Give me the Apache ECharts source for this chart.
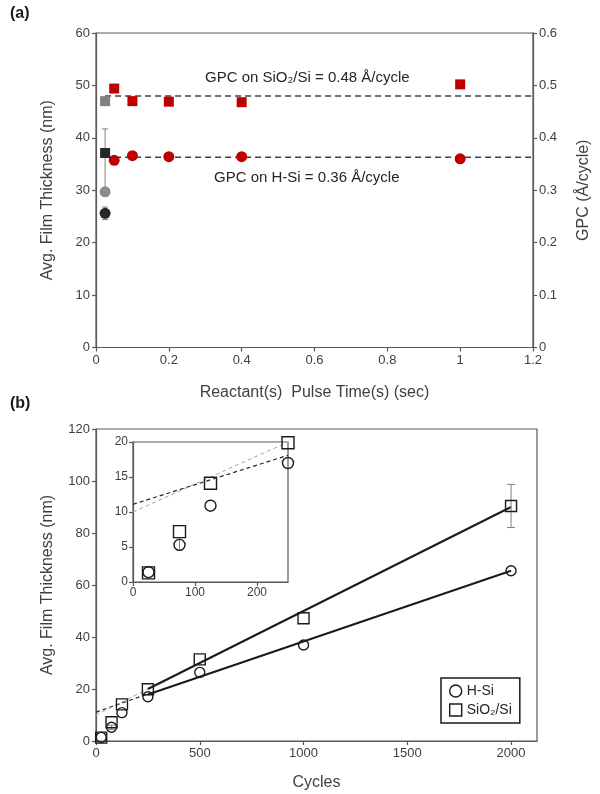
<!DOCTYPE html>
<html>
<head>
<meta charset="utf-8">
<script src="https://cdn.jsdelivr.net/npm/echarts@6/dist/echarts.min.js"></script>
<style>
  html, body { margin: 0; padding: 0; background: #fff; }
  #main { width: 600px; height: 794px; }
</style>
</head>
<body>
<div id="main"></div>
<script>
// ---- panel (a): thickness vs reactant pulse time ----
const pulseTimes = [0.05, 0.1, 0.2, 0.4, 1.0];
const sio2Thick = [49.4, 47.0, 46.9, 46.8, 50.2];
const hsiThick = [35.7, 36.6, 36.4, 36.4, 36.0];
const shortPulse = 0.025;
const graySquare = 47.0;
const blackSquare = 37.1;
const grayCircle = 29.7;
const blackCircle = 25.6;
const blackSquareErr = [29.7, 41.7]; // low, high
const blackCircleErr = [24.4, 26.8];
const gpcLineX = [0.025, 1.2];
const gpcSio2Level = 48.0;
const gpcHsiLevel = 36.3;

// ---- panel (b): thickness vs cycles ----
const cycles = [25, 75, 125, 250, 500, 1000, 2000];
const hsiCycles = [1.4, 5.3, 10.9, 17.0, 26.4, 36.9, 65.5];
const sio2Cycles = [1.3, 7.2, 14.1, 19.9, 31.4, 47.2, 90.4];
const hsiErr = [[75, 4.5, 6.1]];          // cycle, low, high
const sio2Err = [[2000, 82.1, 98.7]];
// fit lines: solid over 250-2000, dashed extrapolation 0-250
const fitSolidX = [250, 2000];
const hsiFitSolid = [17.9, 65.5];
const sio2FitSolid = [20.0, 90.0];
const fitDashX = [0, 250];
const hsiFitDash = [11.1, 18.1];
const sio2FitDash = [10.0, 20.0];
const insetCount = 4; // first four cycle counts shown in the inset

const axisColor = '#595959';
const textColor = '#404040';
const red = '#c00000';
const font = 'Liberation Sans, Arial, sans-serif';

const zip = (xs, ys) => xs.map((x, i) => [x, ys[i]]);

function errorBar(capHalf, color) {
  return function (params, api) {
    const x = api.value(0);
    const lo = api.coord([x, api.value(1)]);
    const hi = api.coord([x, api.value(2)]);
    const st = { stroke: color, lineWidth: 1 };
    return {
      type: 'group',
      children: [
        { type: 'line', shape: { x1: lo[0], y1: lo[1], x2: hi[0], y2: hi[1] }, style: st },
        { type: 'line', shape: { x1: hi[0] - capHalf, y1: hi[1], x2: hi[0] + capHalf, y2: hi[1] }, style: st },
        { type: 'line', shape: { x1: lo[0] - capHalf, y1: lo[1], x2: lo[0] + capHalf, y2: lo[1] }, style: st }
      ]
    };
  };
}

function valueAxis(extra) {
  return Object.assign({
    type: 'value',
    splitLine: { show: false },
    axisLine: { show: true, onZero: false, lineStyle: { color: axisColor, width: 1.2 } },
    axisTick: { show: true, length: 4, lineStyle: { color: axisColor, width: 1.2 } },
    axisLabel: { color: textColor, fontSize: 13, fontFamily: font, margin: 6, formatter: v => String(v) },
    nameTextStyle: { color: textColor, fontSize: 16, fontFamily: font }
  }, extra);
}

const hollow = { color: 'rgba(0,0,0,0)', borderColor: '#1a1a1a', borderWidth: 1.4, opacity: 1 };
const solid = c => ({ color: c, opacity: 1 });

const chart = echarts.init(document.getElementById('main'));
const option = {
  animation: false,
  backgroundColor: '#fff',
  textStyle: { fontFamily: font },
  grid: [
    { left: 96, top: 33, width: 439, height: 314.5, show: true, borderColor: axisColor, borderWidth: 1.2 },
    { left: 96, top: 429, width: 441, height: 312, show: true, borderColor: axisColor, borderWidth: 1.2 },
    { left: 133, top: 442, width: 155, height: 140, show: true, borderColor: axisColor, borderWidth: 1.2, backgroundColor: '#fff' }
  ],
  xAxis: [
    valueAxis({ gridIndex: 0, min: 0, max: 1.2, interval: 0.2,
      name: 'Reactant(s)  Pulse Time(s) (sec)', nameLocation: 'middle', nameGap: 37 }),
    valueAxis({ gridIndex: 1, min: 0, max: 2125, interval: 500,
      axisLabel: { color: textColor, fontSize: 13, fontFamily: font, margin: 6, showMaxLabel: false, formatter: v => String(v) },
      name: 'Cycles', nameLocation: 'middle', nameGap: 34 }),
    valueAxis({ gridIndex: 2, min: 0, max: 250, interval: 100,
      axisLabel: { color: textColor, fontSize: 12, fontFamily: font, margin: 5, showMaxLabel: false, formatter: v => String(v) } })
  ],
  yAxis: [
    valueAxis({ gridIndex: 0, min: 0, max: 60, interval: 10,
      name: 'Avg. Film Thickness (nm)', nameLocation: 'middle', nameGap: 40 }),
    valueAxis({ gridIndex: 0, position: 'right', min: 0, max: 0.6, interval: 0.1,
      name: 'GPC (Å/cycle)', nameLocation: 'middle', nameGap: 43 }),
    valueAxis({ gridIndex: 1, min: 0, max: 120, interval: 20,
      name: 'Avg. Film Thickness (nm)', nameLocation: 'middle', nameGap: 40 }),
    valueAxis({ gridIndex: 2, min: 0, max: 20, interval: 5,
      axisLabel: { color: textColor, fontSize: 12, fontFamily: font, margin: 5 } })
  ],
  legend: {
    orient: 'vertical',
    left: 441, top: 678,
    padding: [6, 8, 6, 8],
    itemGap: 5,
    itemWidth: 12, itemHeight: 12,
    borderColor: '#1a1a1a', borderWidth: 1.5, borderRadius: 0,
    backgroundColor: '#fff',
    textStyle: { color: '#262626', fontSize: 14, fontFamily: font },
    data: [
      { name: 'H-Si', icon: 'circle', itemStyle: hollow },
      { name: 'SiO₂/Si', icon: 'rect', itemStyle: hollow }
    ]
  },
  graphic: [
    { type: 'text', left: 10, top: 6, style: { text: '(a)', font: 'bold 16px ' + font, fill: '#1a1a1a' } },
    { type: 'text', left: 10, top: 396, style: { text: '(b)', font: 'bold 16px ' + font, fill: '#1a1a1a' } },
    { type: 'text', left: 205, top: 70, style: { text: 'GPC on SiO₂/Si = 0.48 Å/cycle', font: '15px ' + font, fill: '#262626' } },
    { type: 'text', left: 214, top: 170, style: { text: 'GPC on H-Si = 0.36 Å/cycle', font: '15px ' + font, fill: '#262626' } }
  ],
  series: [
    // ---- panel (a) ----
    { type: 'line', xAxisIndex: 0, yAxisIndex: 0, symbol: 'none', z: 1,
      lineStyle: { color: textColor, width: 1.5, type: [6, 4] },
      data: gpcLineX.map(x => [x, gpcSio2Level]) },
    { type: 'line', xAxisIndex: 0, yAxisIndex: 0, symbol: 'none', z: 1,
      lineStyle: { color: textColor, width: 1.5, type: [6, 4] },
      data: gpcLineX.map(x => [x, gpcHsiLevel]) },
    { type: 'custom', xAxisIndex: 0, yAxisIndex: 0, z: 2,
      renderItem: errorBar(3, '#808080'), encode: { x: 0, y: [1, 2] },
      data: [[shortPulse, blackSquareErr[0], blackSquareErr[1]], [shortPulse, blackCircleErr[0], blackCircleErr[1]]] },
    { type: 'scatter', xAxisIndex: 0, yAxisIndex: 0, symbol: 'rect', symbolSize: 10, z: 3,
      itemStyle: solid(red), data: zip(pulseTimes, sio2Thick) },
    { type: 'scatter', xAxisIndex: 0, yAxisIndex: 0, symbol: 'circle', symbolSize: 11, z: 3,
      itemStyle: solid(red), data: zip(pulseTimes, hsiThick) },
    { type: 'scatter', xAxisIndex: 0, yAxisIndex: 0, symbol: 'rect', symbolSize: 10, z: 3,
      itemStyle: solid('#808080'), data: [[shortPulse, graySquare]] },
    { type: 'scatter', xAxisIndex: 0, yAxisIndex: 0, symbol: 'rect', symbolSize: 10, z: 3,
      itemStyle: solid('#262626'), data: [[shortPulse, blackSquare]] },
    { type: 'scatter', xAxisIndex: 0, yAxisIndex: 0, symbol: 'circle', symbolSize: 11, z: 3,
      itemStyle: solid('#8c8c8c'), data: [[shortPulse, grayCircle]] },
    { type: 'scatter', xAxisIndex: 0, yAxisIndex: 0, symbol: 'circle', symbolSize: 11, z: 3,
      itemStyle: solid('#262626'), data: [[shortPulse, blackCircle]] },

    // ---- panel (b) main ----
    { type: 'line', xAxisIndex: 1, yAxisIndex: 2, symbol: 'none', z: 1,
      lineStyle: { color: '#262626', width: 1.2, type: [4, 3] }, data: zip(fitDashX, hsiFitDash) },
    { type: 'line', xAxisIndex: 1, yAxisIndex: 2, symbol: 'none', z: 1,
      lineStyle: { color: '#a6a6a6', width: 1, type: [4, 3] }, data: zip(fitDashX, sio2FitDash) },
    { type: 'line', xAxisIndex: 1, yAxisIndex: 2, symbol: 'none', z: 1,
      lineStyle: { color: '#1a1a1a', width: 2 }, data: zip(fitSolidX, hsiFitSolid) },
    { type: 'line', xAxisIndex: 1, yAxisIndex: 2, symbol: 'none', z: 1,
      lineStyle: { color: '#1a1a1a', width: 2 }, data: zip(fitSolidX, sio2FitSolid) },
    { type: 'custom', xAxisIndex: 1, yAxisIndex: 2, z: 2,
      renderItem: errorBar(4, '#808080'), encode: { x: 0, y: [1, 2] },
      data: sio2Err.concat(hsiErr) },
    { name: 'H-Si', type: 'scatter', xAxisIndex: 1, yAxisIndex: 2, symbol: 'circle', symbolSize: 10, z: 3,
      itemStyle: hollow, data: zip(cycles, hsiCycles) },
    { name: 'SiO₂/Si', type: 'scatter', xAxisIndex: 1, yAxisIndex: 2, symbol: 'rect', symbolSize: 11, z: 3,
      itemStyle: hollow, data: zip(cycles, sio2Cycles) },

    // ---- panel (b) inset ----
    { type: 'line', xAxisIndex: 2, yAxisIndex: 3, symbol: 'none', z: 4,
      lineStyle: { color: '#262626', width: 1.2, type: [4, 3] }, data: zip(fitDashX, hsiFitDash) },
    { type: 'line', xAxisIndex: 2, yAxisIndex: 3, symbol: 'none', z: 4,
      lineStyle: { color: '#a6a6a6', width: 1, type: [4, 3] }, data: zip(fitDashX, sio2FitDash) },
    { type: 'custom', xAxisIndex: 2, yAxisIndex: 3, z: 4,
      renderItem: errorBar(3, '#808080'), encode: { x: 0, y: [1, 2] },
      data: hsiErr },
    { name: 'H-Si', type: 'scatter', xAxisIndex: 2, yAxisIndex: 3, symbol: 'circle', symbolSize: 11, z: 5,
      itemStyle: hollow, data: zip(cycles.slice(0, insetCount), hsiCycles.slice(0, insetCount)) },
    { name: 'SiO₂/Si', type: 'scatter', xAxisIndex: 2, yAxisIndex: 3, symbol: 'rect', symbolSize: 12, z: 5,
      itemStyle: hollow, data: zip(cycles.slice(0, insetCount), sio2Cycles.slice(0, insetCount)) }
  ]
};
chart.setOption(option);
</script>
</body>
</html>
